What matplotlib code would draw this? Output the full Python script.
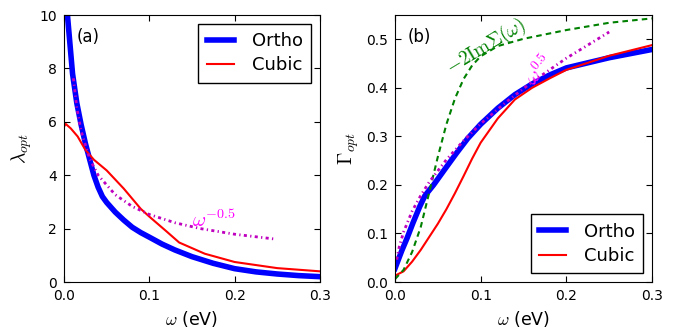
import matplotlib
matplotlib.use("Agg")
import matplotlib.pyplot as plt

plt.rcParams['mathtext.fontset'] = 'cm'
plt.rcParams['xtick.direction'] = 'in'
plt.rcParams['ytick.direction'] = 'in'
plt.rcParams['xtick.top'] = True
plt.rcParams['ytick.right'] = True
plt.rcParams['lines.scale_dashes'] = False

# panel (a): lambda_opt
w_ortho_a = [0.004, 0.007, 0.010, 0.015, 0.020, 0.025, 0.030, 0.035, 0.040, 0.045, 0.050, 0.060,
             0.070, 0.080, 0.090, 0.100, 0.115, 0.130, 0.150, 0.175, 0.200, 0.225, 0.250, 0.275, 0.300]
lam_ortho = [10.0, 8.9, 7.8, 6.7, 5.9, 5.2, 4.6, 4.0, 3.55, 3.2, 2.98, 2.62,
             2.32, 2.05, 1.85, 1.68, 1.42, 1.2, 0.95, 0.7, 0.5, 0.38, 0.3, 0.24, 0.2]
w_cubic_a = [0.0, 0.002, 0.008, 0.016, 0.025, 0.035, 0.05, 0.07, 0.09, 0.1, 0.12, 0.135, 0.165, 0.2, 0.25, 0.3]
lam_cubic = [5.82, 5.92, 5.75, 5.45, 4.95, 4.58, 4.18, 3.5, 2.74, 2.45, 1.9, 1.48, 1.06, 0.75, 0.52, 0.4]
w_fit_a = [0.011, 0.015, 0.02, 0.03, 0.04, 0.06, 0.08, 0.1, 0.13, 0.16, 0.2, 0.247]
lam_fit = [7.63, 6.53, 5.66, 4.62, 4.0, 3.27, 2.83, 2.53, 2.22, 2.0, 1.79, 1.61]

# panel (b): Gamma_opt
w_ortho_b = [0.0, 0.008, 0.014, 0.021, 0.029, 0.035, 0.045, 0.058, 0.072, 0.085, 0.1, 0.12,
             0.14, 0.16, 0.18, 0.2, 0.25, 0.3]
gam_ortho = [0.028, 0.065, 0.09, 0.122, 0.156, 0.178, 0.2, 0.232, 0.266, 0.296, 0.325, 0.358,
             0.386, 0.408, 0.426, 0.441, 0.462, 0.479]
w_cubic_b = [0.0, 0.01, 0.02, 0.03, 0.04, 0.05, 0.06, 0.07, 0.08, 0.09, 0.1, 0.12, 0.14, 0.16, 0.18, 0.2, 0.25, 0.3]
gam_cubic = [0.013, 0.022, 0.042, 0.066, 0.093, 0.12, 0.15, 0.183, 0.218, 0.254, 0.287, 0.337, 0.376, 0.4, 0.419, 0.437, 0.466, 0.488]
w_sigma = [0.0, 0.01, 0.02, 0.03, 0.04, 0.05, 0.06, 0.07, 0.08, 0.09, 0.1, 0.12, 0.15, 0.2, 0.25, 0.3]
gam_sigma = [0.006, 0.025, 0.062, 0.113, 0.185, 0.258, 0.325, 0.378, 0.418, 0.446, 0.465, 0.486, 0.501, 0.519, 0.534, 0.543]
w_fit_b = [0.002, 0.005, 0.01, 0.02, 0.03, 0.04, 0.06, 0.08, 0.1, 0.13, 0.16, 0.2, 0.25]
gam_fit = [0.046, 0.073, 0.103, 0.146, 0.178, 0.206, 0.252, 0.291, 0.326, 0.371, 0.412, 0.461, 0.515]

fig = plt.figure(figsize=(6.84, 3.27), dpi=100)
ax1 = fig.add_axes([0.0936, 0.1376, 0.374, 0.8165])
ax2 = fig.add_axes([0.5775, 0.1376, 0.3757, 0.8165])

fit_dash = (2.2, 2.4, 0.9, 2.4)
leg_kw = dict(fontsize=13, fancybox=False, edgecolor='k', framealpha=1,
              handlelength=1.5, handletextpad=1.0, borderpad=0.45, labelspacing=0.35)

ax1.plot(w_ortho_a, lam_ortho, color='b', lw=4, label='Ortho')
ax1.plot(w_cubic_a, lam_cubic, color='r', lw=1.5, label='Cubic')
ax1.plot(w_fit_a, lam_fit, color='m', lw=2, linestyle='-.', dashes=fit_dash)
ax1.text(0.15, 2.05, r'$\omega^{-0.5}$', color='magenta', fontsize=14.5)
ax1.text(0.05, 0.9, '(a)', transform=ax1.transAxes, fontsize=12)
ax1.set_xlim(0, 0.3)
ax1.set_ylim(0, 10)
ax1.set_xticks([0.0, 0.1, 0.2, 0.3])
ax1.set_yticks([0, 2, 4, 6, 8, 10])
ax1.set_xlabel(r'$\omega$ (eV)', fontsize=12.5)
ax1.set_ylabel(r'$\lambda_{opt}$', fontsize=14)
ax1.tick_params(labelsize=10, length=4, pad=5)
ax1.legend(loc='upper right', **leg_kw)

ax2.plot(w_ortho_b, gam_ortho, color='b', lw=4, label='Ortho')
ax2.plot(w_cubic_b, gam_cubic, color='r', lw=1.5, label='Cubic')
ax2.plot(w_sigma, gam_sigma, color='g', lw=1.5, linestyle='--', dashes=(4, 3))
ax2.plot(w_fit_b, gam_fit, color='m', lw=2, linestyle='-.', dashes=fit_dash)
ax2.text(0.054, 0.43, r'$-2\mathrm{Im}\Sigma(\omega)$', color='green', fontsize=14, rotation=31)
ax2.text(0.147, 0.405, r'$\omega^{0.5}$', color='magenta', fontsize=14, rotation=50)
ax2.text(0.05, 0.9, '(b)', transform=ax2.transAxes, fontsize=12)
ax2.set_xlim(0, 0.3)
ax2.set_ylim(0, 0.55)
ax2.set_xticks([0.0, 0.1, 0.2, 0.3])
ax2.set_yticks([0.0, 0.1, 0.2, 0.3, 0.4, 0.5])
ax2.set_xlabel(r'$\omega$ (eV)', fontsize=12.5)
ax2.set_ylabel(r'$\Gamma_{opt}$', fontsize=14)
ax2.tick_params(labelsize=10, length=4, pad=5)
ax2.legend(loc='lower right', **leg_kw)

plt.savefig("out.png")
